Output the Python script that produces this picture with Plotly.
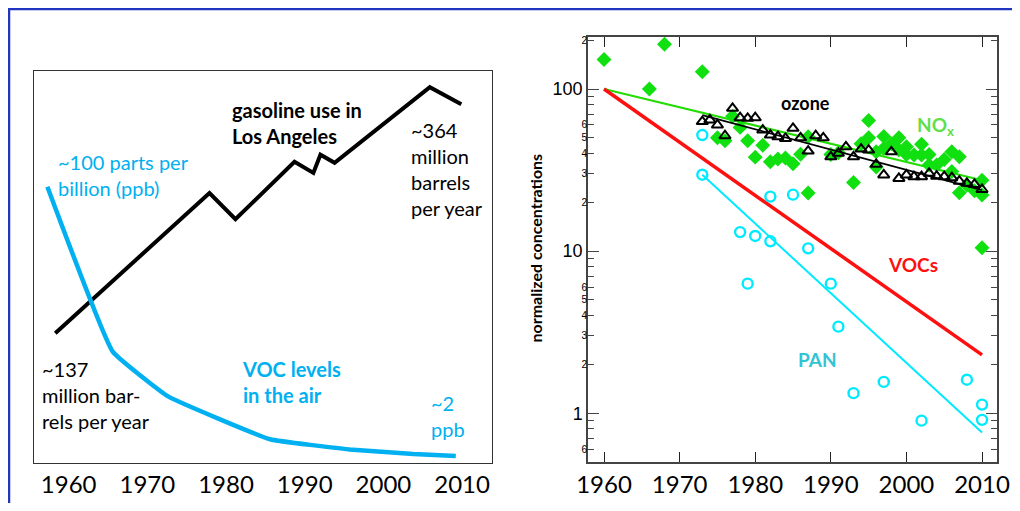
import plotly.graph_objects as go

# ---------------- Left panel data ----------------
gas_years = [1958.3, 1977.9, 1981.2, 1988.7, 1991.1, 1992.0, 1993.8, 2005.9, 2009.9]
gas_mbbl = [137, 276, 250, 307, 296, 314, 306, 381, 364]

vocair_years = [1957.3, 1965.6, 1972.7, 1985.6, 1995.7, 2003.8, 2009.2]
vocair_ppb = [100, 40, 23.6, 8.1, 4.4, 2.7, 2.0]

left_xticks = [1960, 1970, 1980, 1990, 2000, 2010]

# ---------------- Right panel data ----------------
nox_years = [1960, 1966, 1968, 1973, 1975, 1976, 1977, 1978, 1979, 1980, 1981, 1982,
             1983, 1984, 1985, 1986, 1987, 1987, 1990, 1991, 1993, 1994, 1995, 1995,
             1996, 1996, 1997, 1997, 1998, 1999, 1999, 2000, 2000, 2001, 2002, 2002,
             2003, 2003, 2004, 2005, 2006, 2006, 2007, 2007, 2008, 2009, 2010, 2010, 2010]
nox_vals = [152, 100, 189, 128, 50, 48, 68, 58, 48, 38, 45, 35.6,
            37, 37.5, 34.6, 39.6, 50.8, 22.8, 39.5, 40.5, 26.5, 46, 64, 50,
            41, 33, 51, 43, 46, 50, 42, 44, 39.5, 39.2, 45.6, 39.2,
            39.5, 34, 34, 36.8, 41, 31, 38.2, 22.9, 25.6, 23.6, 27.4, 22.2, 10.5]

ozone_years = [1973, 1974, 1975, 1976, 1977, 1978, 1979, 1980, 1981, 1982, 1983, 1984,
               1985, 1986, 1987, 1988, 1989, 1990, 1991, 1992, 1993, 1994, 1995, 1996,
               1997, 1998, 1999, 2000, 2001, 2002, 2003, 2004, 2005, 2006, 2007, 2008,
               2009, 2010]
ozone_vals = [63, 64.5, 60, 51.5, 76, 66.5, 66, 66.5, 55.8, 52, 50.8, 49.6,
              57.2, 50, 41.4, 51.5, 50, 38.2, 40.1, 44, 38.2, 42.6, 42, 34.3,
              29.5, 41, 28.1, 29.5, 28.8, 28.8, 30.2, 29, 28.8, 28.4, 27, 26.2,
              25.8, 24]

pan_years = [1973, 1973, 1978, 1979, 1980, 1982, 1982, 1985, 1987, 1990, 1991, 1993,
             1997, 2002, 2008, 2010, 2010]
pan_vals = [52, 29.6, 13.1, 6.3, 12.4, 21.7, 11.5, 22.3, 10.4, 6.3, 3.42, 1.33,
            1.56, 0.90, 1.61, 1.13, 0.91]

voc_fit_years = [1960, 2010]
voc_fit_vals = [100, 2.29]
nox_fit_years = [1960, 2010]
nox_fit_vals = [100, 27.4]
ozone_fit_years = [1973, 2010]
ozone_fit_vals = [69, 23.8]
pan_fit_years = [1973, 2010]
pan_fit_vals = [29.6, 0.76]

right_xticks = [1960, 1970, 1980, 1990, 2000, 2010]
major_y = [1, 10, 100]
major_y_text = ["1", "10", "100"]
minor_label_y = [0.6, 2, 3, 4, 5, 6, 20, 30, 40, 50, 60, 200]
minor_label_text = ["6", "2", "3", "4", "5", "6", "2", "3", "4", "5", "6", "2"]
minor_tick_y = [0.5, 0.6, 0.7, 0.8, 0.9, 2, 3, 4, 5, 6, 7, 8, 9,
                20, 30, 40, 50, 60, 70, 80, 90, 200]

# The page body has an 8px margin; the figure is sized to fit inside the window.
OFF = 8
W, H = 1004, 495
def px(x):
    return (x - OFF) / W
def py(y):
    return 1 - (y - OFF) / H

BLUE = "#00b0f0"
FONT = "Lato"

fig = go.Figure()

# Left panel traces
fig.add_trace(go.Scatter(x=gas_years, y=gas_mbbl, mode="lines",
                         line=dict(color="black", width=4),
                         xaxis="x", yaxis="y", showlegend=False))
fig.add_trace(go.Scatter(x=vocair_years, y=vocair_ppb, mode="lines",
                         line=dict(color=BLUE, width=4.5, shape="spline", smoothing=0.3),
                         xaxis="x", yaxis="y2", showlegend=False))

# Right panel traces
fig.add_trace(go.Scatter(x=nox_fit_years, y=nox_fit_vals, mode="lines",
                         line=dict(color="#22dd00", width=2),
                         xaxis="x2", yaxis="y3", showlegend=False))
fig.add_trace(go.Scatter(x=nox_years, y=nox_vals, mode="markers",
                         marker=dict(symbol="diamond", size=11.5, color="#10e010"),
                         xaxis="x2", yaxis="y3", showlegend=False))
fig.add_trace(go.Scatter(x=ozone_fit_years, y=ozone_fit_vals, mode="lines",
                         line=dict(color="black", width=1.8),
                         xaxis="x2", yaxis="y3", showlegend=False))
fig.add_trace(go.Scatter(x=ozone_years, y=ozone_vals, mode="markers",
                         marker=dict(symbol="triangle-up-open", size=10,
                                     color="black", line=dict(width=2, color="black")),
                         xaxis="x2", yaxis="y3", showlegend=False))
fig.add_trace(go.Scatter(x=voc_fit_years, y=voc_fit_vals, mode="lines",
                         line=dict(color="#ff1010", width=3.5),
                         xaxis="x2", yaxis="y3", showlegend=False))
fig.add_trace(go.Scatter(x=pan_fit_years, y=pan_fit_vals, mode="lines",
                         line=dict(color="#00eaff", width=2),
                         xaxis="x2", yaxis="y3", showlegend=False))
fig.add_trace(go.Scatter(x=pan_years, y=pan_vals, mode="markers",
                         marker=dict(symbol="circle-open", size=10,
                                     color="#00eaff", line=dict(width=2.4, color="#00eaff")),
                         xaxis="x2", yaxis="y3", showlegend=False))
# invisible trace to activate the minor-label axis
fig.add_trace(go.Scatter(x=[2000], y=[10], mode="markers", marker=dict(opacity=0),
                         xaxis="x2", yaxis="y4", showlegend=False, hoverinfo="skip"))

LINEC = "#444444"
fig.update_layout(
    width=W, height=H,
    margin=dict(l=0, r=0, t=0, b=0, autoexpand=False),
    paper_bgcolor="white", plot_bgcolor="white",
    font=dict(family=FONT, color="black"),
    xaxis=dict(domain=[px(34), px(492)], range=[1955.6, 2013.8],
               tickvals=left_xticks, ticks="", showgrid=False, zeroline=False,
               showline=True, mirror=True, linecolor="#333333", linewidth=1.2,
               tickfont=dict(family=FONT, size=24, color="black"),
               anchor="y"),
    yaxis=dict(domain=[py(463), py(71)], range=[8.3, 397],
               showticklabels=False, ticks="", showgrid=False, zeroline=False,
               showline=True, mirror=True, linecolor="#333333", linewidth=1.2,
               anchor="x"),
    yaxis2=dict(overlaying="y", range=[-0.55, 142.1], visible=False, anchor="x"),
    xaxis2=dict(domain=[px(588), px(997)], range=[1957.88, 2011.98],
                tickvals=right_xticks, ticks="inside", ticklen=10, tickwidth=1.3,
                tickcolor="#222222", mirror="ticks", showline=True, linecolor=LINEC,
                linewidth=1.5, showgrid=False, zeroline=False,
                tickfont=dict(family=FONT, size=24, color="black"),
                anchor="y3"),
    yaxis3=dict(domain=[py(462), py(37)], type="log", range=[-0.301, 2.321],
                tickvals=major_y, ticktext=major_y_text, ticks="inside", ticklen=11,
                tickwidth=1.3, tickcolor=LINEC, mirror="ticks", showline=True,
                linecolor=LINEC, linewidth=1.5, showgrid=False, zeroline=False,
                tickfont=dict(family="Liberation Sans", size=18, color="black"),
                minor=dict(tickvals=minor_tick_y, ticks="inside", ticklen=6,
                           tickwidth=1.2, tickcolor=LINEC, showgrid=False),
                anchor="x2"),
    yaxis4=dict(overlaying="y3", type="log", range=[-0.301, 2.321], anchor="x2",
                side="left", tickvals=minor_label_y, ticktext=minor_label_text,
                ticks="", showline=False, showgrid=False, zeroline=False,
                ticklabelstandoff=0,
                tickfont=dict(family="Liberation Sans", size=10, color="black")),
)

ann = []
def add(x, y, text, color="black", size=20, bold=False, xanchor="left", angle=0):
    t = f"<b>{text}</b>" if bold else text
    ann.append(dict(x=px(x), y=py(y), xref="paper", yref="paper", text=t,
                    showarrow=False, xanchor=xanchor, yanchor="middle", align="left",
                    textangle=angle,
                    font=dict(family=FONT, size=size, color=color)))

add(230, 122.5, "gasoline use in<br>Los Angeles", bold=True)
add(409, 168.5, "~364<br>million<br>barrels<br>per year")
add(56, 174.5, "~100 parts per<br>billion (ppb)", color=BLUE)
add(40, 395, "~137<br>million bar-<br>rels per year")
add(240, 381.5, "VOC levels<br>in the air", color=BLUE, bold=True)
add(429, 415.5, "~2<br>ppb", color=BLUE)

add(805.7, 103.3, "ozone", size=18, bold=True, xanchor="center")
add(915, 126, "NO<sub>x</sub>", color="#5fe04a", size=19, bold=True)
add(886, 264, "VOCs", color="#ff1010", size=19, bold=True)
add(796, 359, "PAN", color="#33c4d4", size=19, bold=True)
add(534.5, 248, "normalized concentrations", size=16, bold=True,
    xanchor="center", angle=-90)

fig.update_layout(annotations=ann)

fig.add_shape(type="rect", xref="paper", yref="paper",
              x0=px(9), x1=1.2, y0=-0.2, y1=py(9),
              line=dict(color="#2036c0", width=2.5), fillcolor="rgba(0,0,0,0)")

fig.write_html("out.html")
